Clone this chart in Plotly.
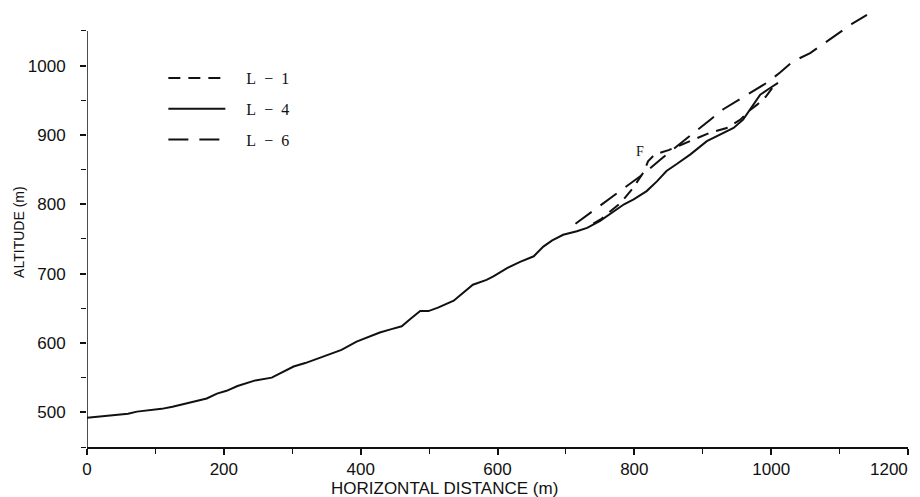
import plotly.graph_objects as go

# ---- data ----
l4_x = [0, 20, 38, 60, 73, 90, 109, 125, 141, 160, 175, 190, 204, 220, 229, 246, 270, 287,
        302, 319, 336, 355, 372, 394, 410, 428, 445, 460, 473, 487, 499, 513, 536, 550, 564,
        584, 594, 614, 633, 653, 667, 680, 696, 716, 731, 750, 770, 785, 799, 818, 833, 847,
        862, 882, 906, 925, 945, 959, 974, 984, 999, 1010]
l4_y = [492, 494, 495, 498, 501, 503, 505, 508, 512, 516, 520, 527, 531, 538, 541, 546, 550, 559,
        566, 571, 577, 583, 590, 602, 608, 615, 620, 624, 635, 646, 646, 651, 661, 672, 684,
        691, 696, 708, 717, 725, 739, 748, 756, 761, 766, 776, 790, 800, 807, 819, 833, 848,
        858, 872, 891, 900, 910, 922, 944, 958, 968, 975]

l1_x = [740, 752, 765, 780, 797, 808, 814, 820, 830, 850, 870, 890, 910, 935, 955, 968, 980, 992, 1005]
l1_y = [772, 779, 790, 802, 822, 838, 847, 862, 872, 878, 886, 895, 903, 910, 922, 935, 944, 955, 972]

l6_x = [714, 735, 755, 775, 795, 815, 840, 871, 889, 911, 930, 952, 972, 995, 1013, 1032, 1057,
        1076, 1098, 1118, 1140]
l6_y = [772, 787, 801, 816, 830, 845, 866, 891, 905, 922, 937, 950, 963, 976, 990, 1006, 1018,
        1031, 1047, 1060, 1073]

series_names = ["L\u2002−\u20021", "L\u2002−\u20024", "L\u2002−\u20026"]
x_ticks = [0, 200, 400, 600, 800, 1000, 1200]
y_ticks = [500, 600, 700, 800, 900, 1000]

INK = "#111111"
SANS = "Liberation Sans Narrow, Liberation Sans, Arial, sans-serif"
SERIF = "Liberation Serif, DejaVu Serif, serif"
TICK_FONT = dict(family=SANS, size=17, color=INK)

fig = go.Figure()
fig.add_trace(go.Scatter(x=l1_x, y=l1_y, mode="lines", name="\u2003" + series_names[0], legendgroup="a",
                         line=dict(color=INK, width=2, dash="12px,8px")))
fig.add_trace(go.Scatter(x=l4_x, y=l4_y, mode="lines", name="\u2003" + series_names[1], legendgroup="b",
                         line=dict(color=INK, width=2)))
fig.add_trace(go.Scatter(x=l6_x, y=l6_y, mode="lines", name="\u2003" + series_names[2], legendgroup="c",
                         line=dict(color=INK, width=2, dash="20px,11px")))

# last x tick label drawn separately so it stays inside the page
x_ticktext = [str(v) if v != 1200 else "" for v in x_ticks]

fig.update_layout(
    width=912, height=489,
    margin=dict(l=79, r=12, t=0, b=50),
    paper_bgcolor="white", plot_bgcolor="white",
    showlegend=True,
    legend=dict(x=0.093, y=0.879, xanchor="left", yanchor="top",
                font=dict(family=SERIF, size=16, color=INK),
                itemwidth=57, tracegroupgap=7, bgcolor="rgba(0,0,0,0)"),
    xaxis=dict(range=[0, 1200], tickvals=x_ticks, ticktext=x_ticktext,
               showgrid=False, zeroline=False, showline=True, linecolor=INK, linewidth=1.5,
               ticks="outside", ticklen=6, tickwidth=1.5, tickcolor=INK, tickfont=TICK_FONT,
               minor=dict(dtick=100, tick0=0, ticks="outside", ticklen=5, tickwidth=1.2, tickcolor=INK)),
    yaxis=dict(range=[450, 1083], tickvals=y_ticks, ticktext=[str(v) for v in y_ticks],
               showgrid=False, zeroline=False, showline=False,
               ticks="outside", ticklen=6, tickwidth=1.5, tickcolor=INK, tickfont=TICK_FONT,
               minor=dict(dtick=50, tick0=0, ticks="outside", ticklen=5, tickwidth=1.2, tickcolor=INK),
               ticklabelstandoff=11),
)

# y axis line stops at 1050 as in the reference
fig.add_shape(type="line", xref="x", yref="y", x0=0, x1=0, y0=450, y1=1050,
              line=dict(color=INK, width=1.5))

# "1200" tick label
fig.add_annotation(text=str(x_ticks[-1]), x=x_ticks[-1], xref="x", y=0, yref="paper",
                   xanchor="right", yanchor="middle", xshift=2, yshift=-22, showarrow=False,
                   font=TICK_FONT)

# axis titles
fig.add_annotation(text="HORIZONTAL DISTANCE (m)", xref="paper", yref="paper",
                   x=0.436, y=0, yshift=-41, showarrow=False, xanchor="center", yanchor="middle",
                   font=dict(family=SANS, size=17, color=INK))
fig.add_annotation(text="ALTITUDE (m)", xref="paper", yref="paper",
                   x=0, xshift=-68, y=0.49, showarrow=False, textangle=-90,
                   xanchor="center", yanchor="middle",
                   font=dict(family=SANS, size=14, color=INK))

# fault mark
fig.add_annotation(text="F", x=808, y=876, xref="x", yref="y", showarrow=False,
                   font=dict(family=SERIF, size=14, color=INK))

fig.write_html("out.html")
